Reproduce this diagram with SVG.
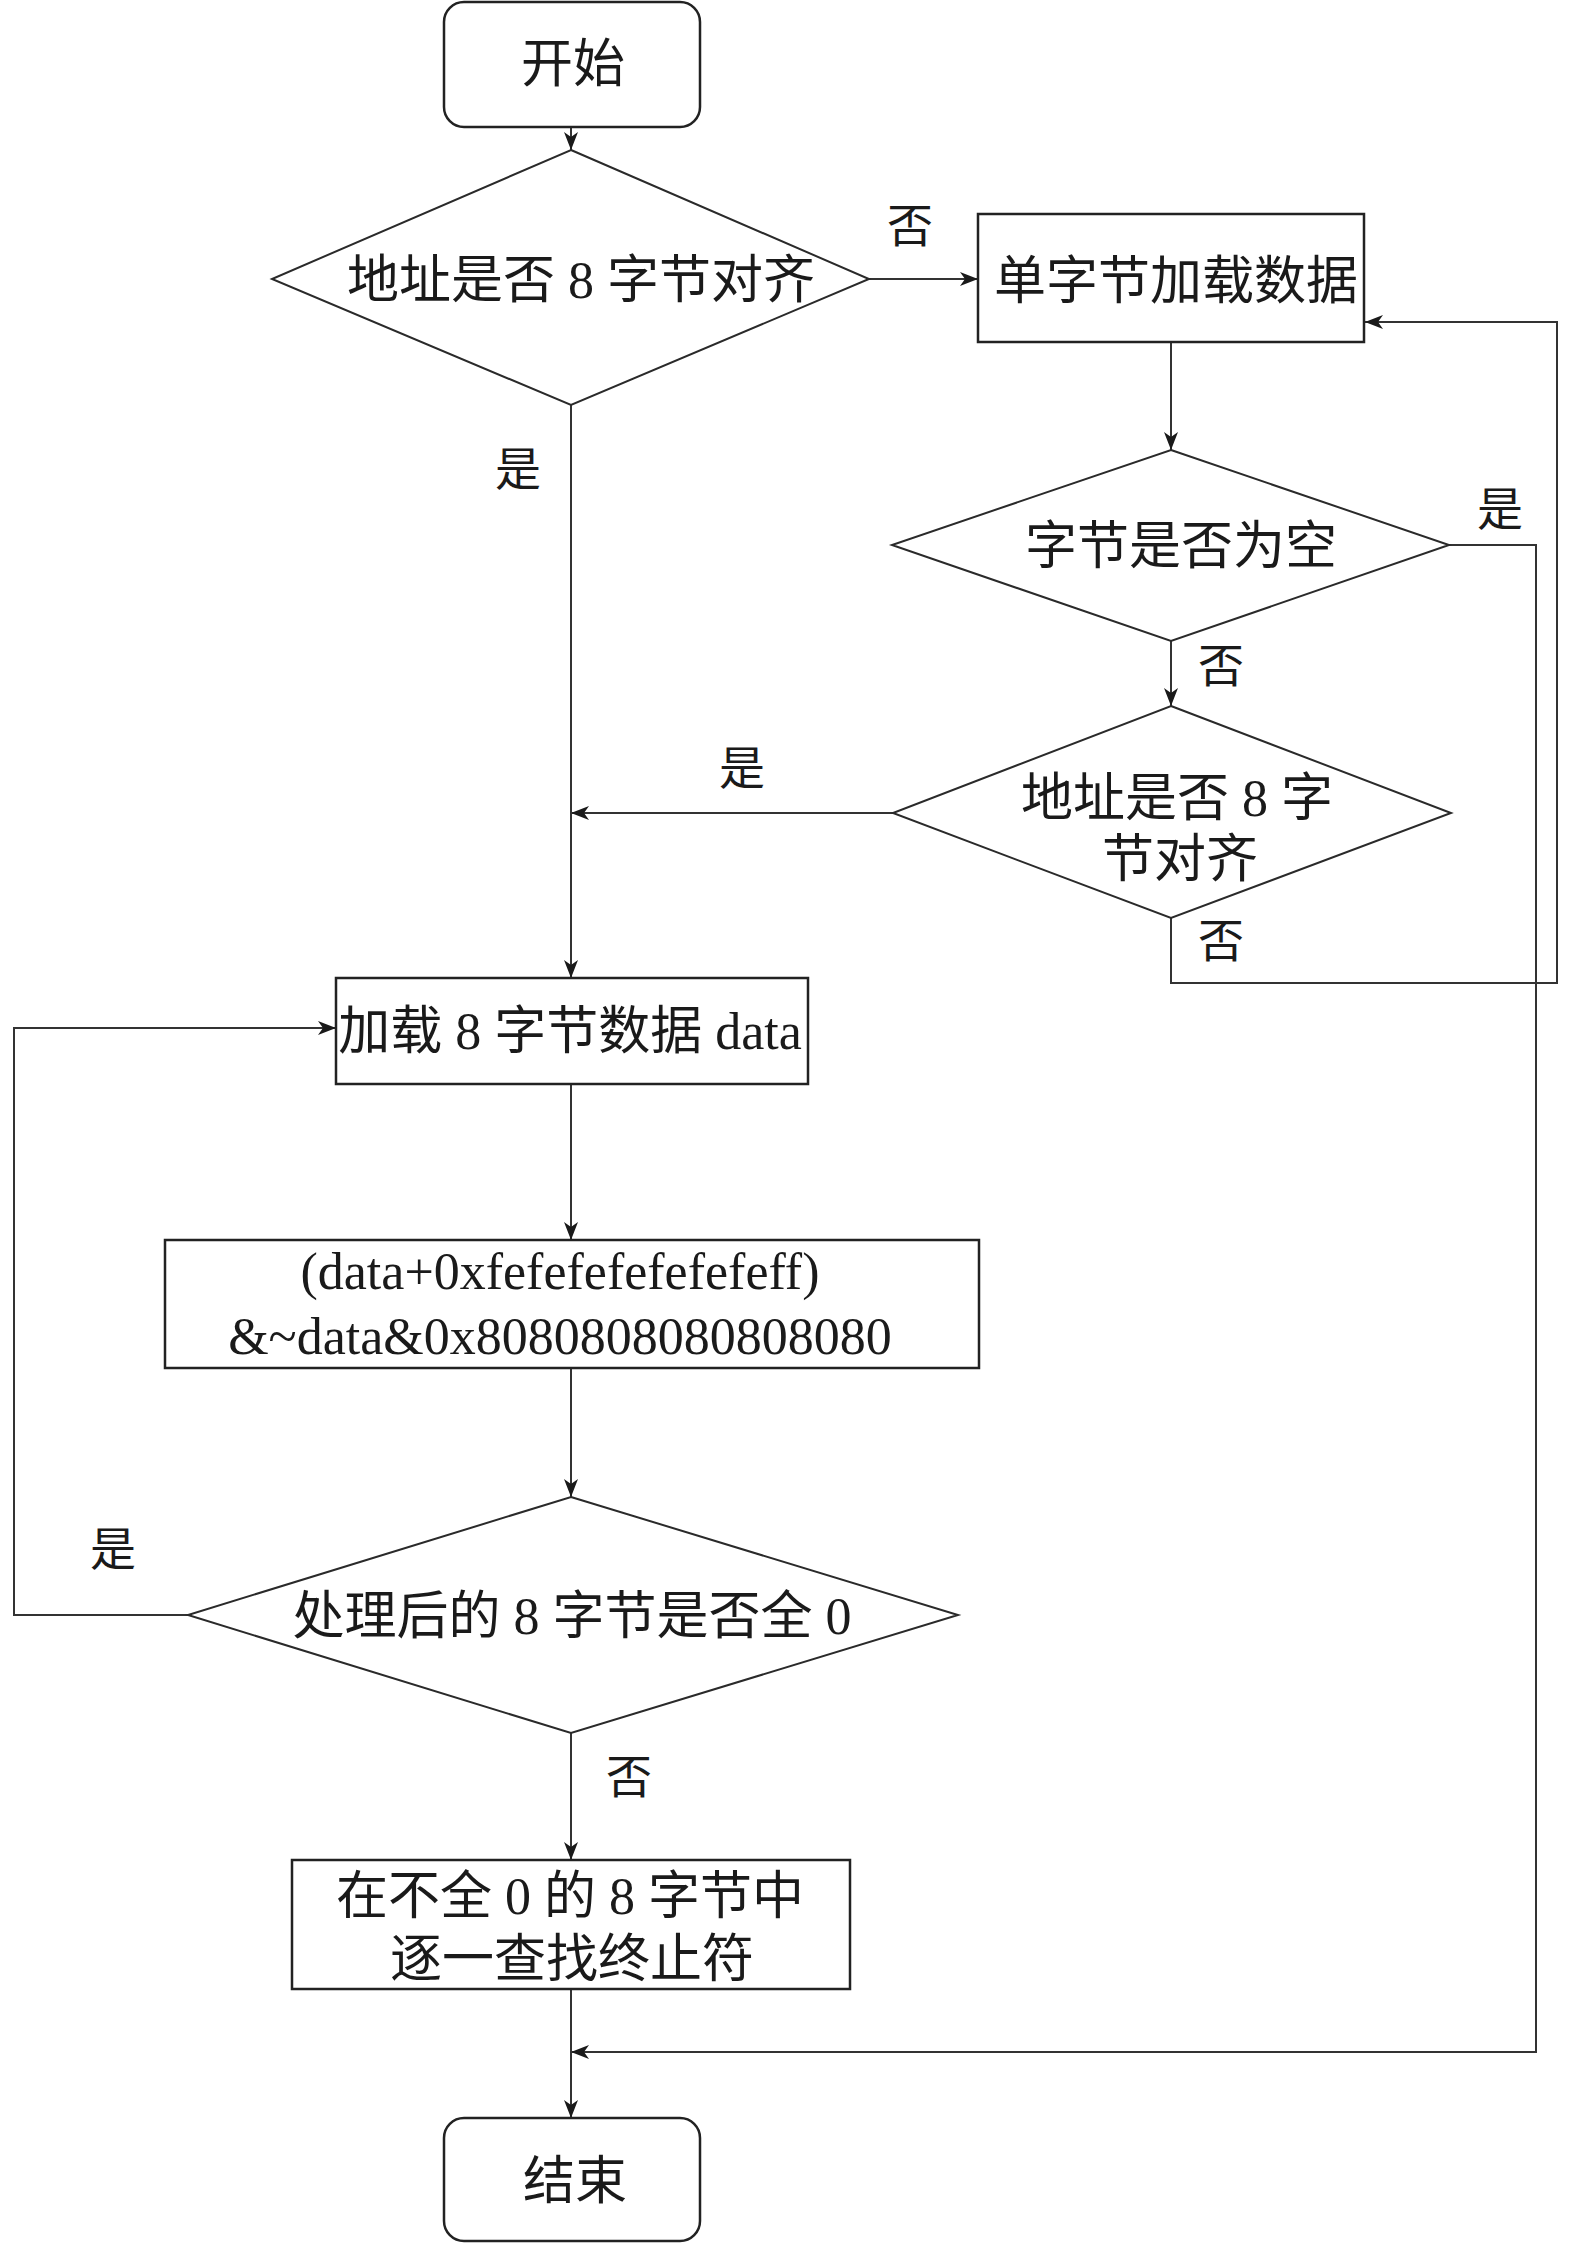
<svg xmlns="http://www.w3.org/2000/svg" width="1575" height="2245" viewBox="0 0 1575 2245">
<style>
.box{fill:#fff;stroke:#222;stroke-width:2.5}
.dia{fill:#fff;stroke:#2a2a2a;stroke-width:2}
.ln{fill:none;stroke:#333;stroke-width:2}
.t{font-family:"Liberation Serif","Noto Sans CJK SC",serif;font-size:52px;fill:#1a1a1a;text-anchor:middle}
.lb{font-family:"Liberation Serif","Noto Sans CJK SC",serif;font-size:46px;fill:#1a1a1a;text-anchor:middle}
</style>
<defs>
<marker id="ah" markerUnits="userSpaceOnUse" markerWidth="20" markerHeight="14" refX="18" refY="7" orient="auto">
<path d="M0,0 L18,7 L0,14 L5,7 z" fill="#1a1a1a"/>
</marker>
</defs>
<rect width="1575" height="2245" fill="#fff"/>
<g id="connectors">
<line class="ln" x1="571" y1="127" x2="571" y2="150" marker-end="url(#ah)"/>
<line class="ln" x1="869" y1="279" x2="978" y2="279" marker-end="url(#ah)"/>
<line class="ln" x1="1171" y1="342" x2="1171" y2="450" marker-end="url(#ah)"/>
<line class="ln" x1="1171" y1="641" x2="1171" y2="706" marker-end="url(#ah)"/>
<line class="ln" x1="893" y1="813" x2="571" y2="813" marker-end="url(#ah)"/>
<polyline class="ln" points="1171,918 1171,983 1557,983 1557,322 1365,322" marker-end="url(#ah)"/>
<polyline class="ln" points="1449,545 1536,545 1536,2052 571,2052" marker-end="url(#ah)"/>
<line class="ln" x1="571" y1="405" x2="571" y2="978" marker-end="url(#ah)"/>
<line class="ln" x1="571" y1="1084" x2="571" y2="1240" marker-end="url(#ah)"/>
<line class="ln" x1="571" y1="1368" x2="571" y2="1497" marker-end="url(#ah)"/>
<polyline class="ln" points="188,1615 14,1615 14,1028 336,1028" marker-end="url(#ah)"/>
<line class="ln" x1="571" y1="1733" x2="571" y2="1860" marker-end="url(#ah)"/>
<line class="ln" x1="571" y1="1989" x2="571" y2="2118" marker-end="url(#ah)"/>
<text class="lb" x="910" y="242">否</text>
<text class="lb" x="518" y="485">是</text>
<text class="lb" x="1500" y="525">是</text>
<text class="lb" x="1221" y="682">否</text>
<text class="lb" x="742" y="784">是</text>
<text class="lb" x="1221" y="957">否</text>
<text class="lb" x="113" y="1565">是</text>
<text class="lb" x="629" y="1793">否</text>
</g>
<g id="start">
<rect class="box" x="444" y="2" width="256" height="125" rx="20"/>
<text class="t" x="573" y="82">开始</text>
</g>
<g id="check-align-1">
<polygon class="dia" points="571,150 869,279 571,405 272,279"/>
<text class="t" x="581" y="298">地址是否 8 字节对齐</text>
</g>
<g id="load-byte">
<rect class="box" x="978" y="214" width="386" height="128"/>
<text class="t" x="1176" y="299">单字节加载数据</text>
</g>
<g id="check-empty">
<polygon class="dia" points="1171,450 1449,545 1171,641 892,545"/>
<text class="t" x="1181" y="564">字节是否为空</text>
</g>
<g id="check-align-2">
<polygon class="dia" points="1171,706 1451,813 1171,918 893,813"/>
<text class="t" x="1177" y="816">地址是否 8 字</text>
<text class="t" x="1180" y="877">节对齐</text>
</g>
<g id="load-8">
<rect class="box" x="336" y="978" width="472" height="106"/>
<text class="t" x="570" y="1049">加载 8 字节数据 data</text>
</g>
<g id="compute">
<rect class="box" x="165" y="1240" width="814" height="128"/>
<text class="t" x="560" y="1289">(data+0xfefefefefefefeff)</text>
<text class="t" x="560" y="1354">&amp;~data&amp;0x8080808080808080</text>
</g>
<g id="check-zero">
<polygon class="dia" points="571,1497 958,1615 571,1733 188,1615"/>
<text class="t" x="572" y="1634">处理后的 8 字节是否全 0</text>
</g>
<g id="find-term">
<rect class="box" x="292" y="1860" width="558" height="129"/>
<text class="t" x="570" y="1914">在不全 0 的 8 字节中</text>
<text class="t" x="572" y="1977">逐一查找终止符</text>
</g>
<g id="end">
<rect class="box" x="444" y="2118" width="256" height="123" rx="20"/>
<text class="t" x="575" y="2199">结束</text>
</g>
</svg>
